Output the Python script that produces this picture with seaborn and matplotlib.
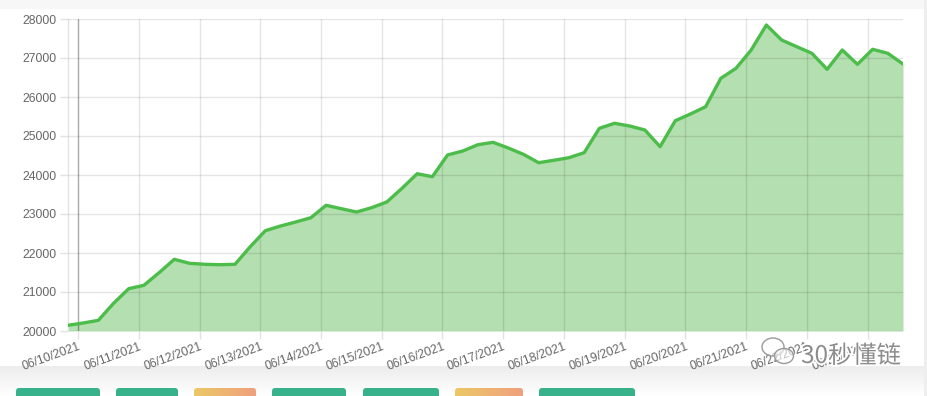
import numpy as np
import pandas as pd
import matplotlib
matplotlib.use("Agg")
import matplotlib.pyplot as plt
import matplotlib.dates as mdates
import matplotlib.patheffects as pe
from matplotlib.patches import FancyBboxPatch, Rectangle, Ellipse
import seaborn as sns

# ---------------- data ----------------
start_time = "2021-06-09 20:00"
sample_freq = "6h"
prices = [
    20146, 20205, 20274, 20710, 21085, 21172, 21495, 21838, 21736, 21710,
    21700, 21710, 22160, 22572, 22692, 22795, 22905, 23223, 23136, 23051,
    23162, 23308, 23659, 24033, 23956, 24513, 24615, 24777, 24838, 24692,
    24530, 24315, 24377, 24444, 24572, 25197, 25326, 25256, 25154, 24726,
    25392, 25564, 25751, 26479, 26736, 27205, 27846, 27462, 27290, 27120,
    26710, 27205, 26838, 27223, 27120, 26846,
]
tick_days = ["2021-06-10", "2021-06-11", "2021-06-12", "2021-06-13", "2021-06-14",
             "2021-06-15", "2021-06-16", "2021-06-17", "2021-06-18", "2021-06-19",
             "2021-06-20", "2021-06-21", "2021-06-22", "2021-06-23"]
y_ticks = [20000, 21000, 22000, 23000, 24000, 25000, 26000, 27000, 28000]
watermark_text = "30秒懂链"

times = pd.date_range(start_time, periods=len(prices), freq=sample_freq)
df = pd.DataFrame({"time": times, "price": prices})

# ---------------- style ----------------
sns.set_theme(style="white")
plt.rcParams["font.family"] = ["Liberation Sans", "DejaVu Sans"]

W, H = 928, 396
fig = plt.figure(figsize=(W / 100, H / 100), dpi=100)
fig.patch.set_facecolor("white")

# background / UI decorations (pixel coordinates)
bg = fig.add_axes([0, 0, 1, 1], zorder=-5)
bg.axis("off")
bg.add_patch(Rectangle((0, 0), W, 9, color="#f7f7f7", lw=0))
bg.add_patch(Rectangle((924, 0), 4, H, color="#eeeeee", lw=0))
grad = np.linspace(0, 1, 64).reshape(-1, 1)
bg.imshow(grad, extent=[0, W, 366, H], cmap=matplotlib.colors.LinearSegmentedColormap.from_list(
    "g", ["#ffffff", "#ededed"]), aspect="auto", zorder=0)

buttons = [(16, 100, "g"), (116, 178, "g"), (194, 256, "o"), (272, 346, "g"),
           (363, 439, "g"), (455, 523, "o"), (539, 635, "g")]
orange_cmap = matplotlib.colors.LinearSegmentedColormap.from_list("o", ["#ecc866", "#f0a07e"])
for x0, x1, kind in buttons:
    patch = FancyBboxPatch((x0, 388), x1 - x0, 14, boxstyle="round,pad=0,rounding_size=3",
                           lw=0, fc="#38b28a" if kind == "g" else "none", zorder=2)
    bg.add_patch(patch)
    if kind == "o":
        im = bg.imshow(np.linspace(0, 1, 64).reshape(1, -1), extent=[x0, x1, 402, 388],
                       cmap=orange_cmap, aspect="auto", zorder=2)
        im.set_clip_path(patch)
bg.set_xlim(0, W)
bg.set_ylim(H, 0)

# main chart
ax = fig.add_axes([68 / W, (H - 331) / H, (903 - 68) / W, 312 / H])
ax.set_facecolor("none")
line_color = "#4cbd4a"
fill_color = "#b4dfb0"
grid_color = "#e2e2e2"

ax.fill_between(df["time"], df["price"], 20000, color=fill_color, lw=0, zorder=1)
sns.lineplot(data=df, x="time", y="price", ax=ax, color=line_color, lw=2.4, zorder=4)

ax.set_xlim(times[0], times[-1])
ax.set_ylim(20000, 28000)
ax.set_yticks(y_ticks)
ax.set_yticklabels([str(v) for v in y_ticks])
ax.set_xticks(pd.to_datetime(tick_days))
ax.xaxis.set_major_formatter(mdates.DateFormatter("%m/%d/%Y"))
ax.set_xlabel("")
ax.set_ylabel("")

ax.grid(True, color="black", alpha=0.1, lw=1)
ax.set_axisbelow(False)
ax.axvline(pd.Timestamp(tick_days[0]), color="black", alpha=0.25, lw=1, zorder=3)

for s in ["top", "right", "bottom"]:
    ax.spines[s].set_visible(False)
ax.spines["left"].set_color(grid_color)
ax.spines["left"].set_linewidth(1)

ax.tick_params(axis="y", length=6, width=1, color=grid_color, pad=2,
               labelsize=8.8, labelcolor="#666666", left=True)
ax.tick_params(axis="x", length=6, width=1, color=grid_color, pad=1,
               labelsize=8.8, labelcolor="#666666", bottom=True)
for lab in ax.get_xticklabels():
    lab.set_rotation(20)
    lab.set_ha("right")
    lab.set_va("top")
    lab.set_rotation_mode("anchor")

# watermark
ov = fig.add_axes([0, 0, 1, 1], zorder=10)
ov.set_xlim(0, W)
ov.set_ylim(H, 0)
ov.axis("off")
stroke = [pe.withStroke(linewidth=2.5, foreground="white")]
e1 = Ellipse((773, 347), 22, 18, fc=(1, 1, 1, 0.5), ec="#9a9a9a", lw=1.0)
e2 = Ellipse((784, 356), 19, 15, fc=(1, 1, 1, 0.6), ec="#9a9a9a", lw=1.0)
ov.add_patch(e1)
ov.add_patch(e2)
ov.text(851, 356, watermark_text, ha="center", va="center", fontsize=17.5,
        color="#8c8c8c", family=["Noto Sans CJK SC", "DejaVu Sans"], path_effects=stroke)

fig.savefig("out.png", dpi=100)
